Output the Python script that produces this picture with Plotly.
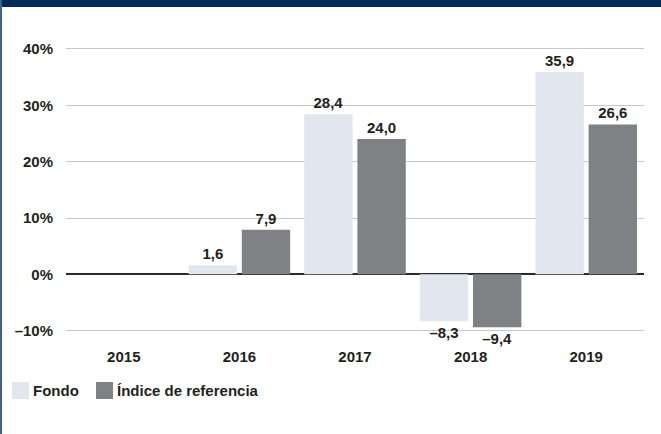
import plotly.graph_objects as go

years = ["2015", "2016", "2017", "2018", "2019"]
fondo = [None, 1.6, 28.4, -8.3, 35.9]
indice = [None, 7.9, 24.0, -9.4, 26.6]
series_names = ["Fondo", "Índice de referencia"]
tick_vals = [-10, 0, 10, 20, 30, 40]
tick_text = ["–10%", "0%", "10%", "20%", "30%", "40%"]

COL_FONDO = "#E1E6EF"
COL_INDICE = "#808184"
TXT = "#231F20"
FONT = "Liberation Sans, Arial, sans-serif"

W, H = 661, 434
ML, MR, MT, MB = 66, 17, 32, 92
PW, PH = W - ML - MR, H - MT - MB


def px_x(p):
    return (p - ML) / PW


def px_y(p):
    return (H - MB - p) / PH


def fmt(v):
    if v is None:
        return ""
    s = f"{abs(v):.1f}".replace(".", ",")
    return ("–" + s) if v < 0 else s


fig = go.Figure()
for name, vals, col in [(series_names[0], fondo, COL_FONDO), (series_names[1], indice, COL_INDICE)]:
    fig.add_trace(go.Bar(
        x=years, y=vals, name=name, marker=dict(color=col, line=dict(width=0)),
        text=[fmt(v) for v in vals], textposition="outside",
        textfont=dict(family=FONT, size=15, color=TXT, weight="bold"),
        cliponaxis=False, showlegend=False, hoverinfo="skip",
    ))

shapes = [
    # top band
    dict(type="rect", xref="paper", yref="paper", x0=px_x(0), x1=px_x(W), y0=px_y(7), y1=px_y(0),
         fillcolor="#002A57", line=dict(width=0), layer="above"),
    # left border
    dict(type="line", xref="paper", yref="paper", x0=px_x(1), x1=px_x(1), y0=px_y(H), y1=px_y(0),
         line=dict(color="#3E6189", width=2), layer="above"),
    # legend swatches
    dict(type="rect", xref="paper", yref="paper", x0=px_x(12), x1=px_x(29), y0=px_y(399), y1=px_y(382),
         fillcolor=COL_FONDO, line=dict(width=0)),
    dict(type="rect", xref="paper", yref="paper", x0=px_x(96), x1=px_x(113), y0=px_y(399), y1=px_y(382),
         fillcolor=COL_INDICE, line=dict(width=0)),
]

annotations = [
    dict(xref="paper", yref="paper", x=px_x(31), y=px_y(391), text=series_names[0], showarrow=False,
         xanchor="left", yanchor="middle", font=dict(family=FONT, size=15, color=TXT, weight="bold")),
    dict(xref="paper", yref="paper", x=px_x(115), y=px_y(391), text=series_names[1], showarrow=False,
         xanchor="left", yanchor="middle", font=dict(family=FONT, size=15, color=TXT, weight="bold")),
]

fig.update_layout(
    width=W, height=H,
    margin=dict(l=ML, r=MR, t=MT, b=MB, pad=0),
    paper_bgcolor="white", plot_bgcolor="white",
    barmode="group", bargap=0.08, bargroupgap=0.09,
    showlegend=False,
    shapes=shapes, annotations=annotations,
    font=dict(family=FONT, size=15, color=TXT),
    xaxis=dict(
        type="category", showgrid=False, zeroline=False, showline=False, ticks="",
        tickfont=dict(family=FONT, size=15, color=TXT, weight="bold"),
        ticklabelstandoff=4, fixedrange=True,
    ),
    yaxis=dict(
        range=[-12, 43], tickvals=tick_vals, ticktext=tick_text,
        showgrid=True, gridcolor="#C8C8C8", gridwidth=1,
        zeroline=True, zerolinecolor="#2B2B2B", zerolinewidth=2,
        showline=False, ticks="",
        tickfont=dict(family=FONT, size=15, color=TXT, weight="bold"),
        ticklabelstandoff=12, fixedrange=True,
    ),
)

fig.write_html(
    "out.html",
    config={"displayModeBar": False},
    post_script="document.body.style.margin='0';document.body.style.overflow='hidden';",
)
